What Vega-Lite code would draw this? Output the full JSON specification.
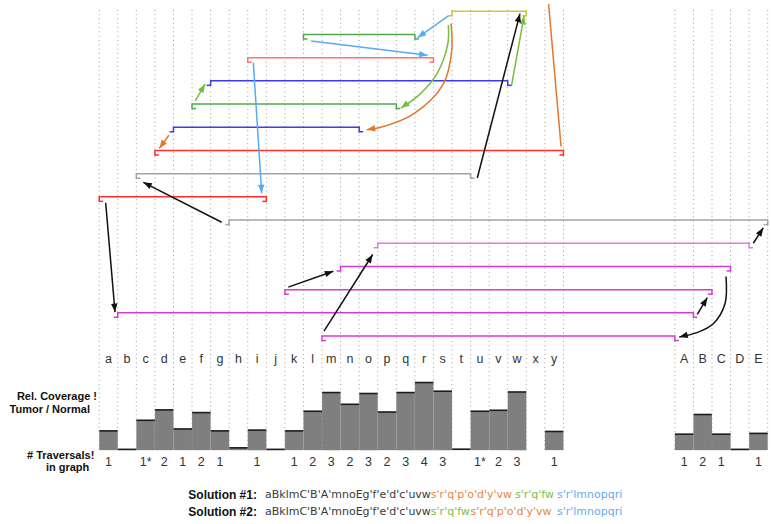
{
  "$schema": "https://vega.github.io/schema/vega-lite/v6.json",
  "width": 771,
  "height": 524,
  "autosize": {"type": "fit", "contains": "padding"},
  "padding": 0,
  "background": "white",
  "config": {"view": {"stroke": null}, "font": "Liberation Sans"},
  "datasets": {
    "columns": [
      {"seg": "a", "idx": 0, "cov": 1.0, "trav": "1"},
      {"seg": "b", "idx": 1, "cov": 0.04, "trav": ""},
      {"seg": "c", "idx": 2, "cov": 1.55, "trav": "1*"},
      {"seg": "d", "idx": 3, "cov": 2.09, "trav": "2"},
      {"seg": "e", "idx": 4, "cov": 1.1, "trav": "1"},
      {"seg": "f", "idx": 5, "cov": 1.95, "trav": "2"},
      {"seg": "g", "idx": 6, "cov": 1.0, "trav": "1"},
      {"seg": "h", "idx": 7, "cov": 0.12, "trav": ""},
      {"seg": "i", "idx": 8, "cov": 1.04, "trav": "1"},
      {"seg": "j", "idx": 9, "cov": 0.04, "trav": ""},
      {"seg": "k", "idx": 10, "cov": 1.0, "trav": "1"},
      {"seg": "l", "idx": 11, "cov": 2.02, "trav": "2"},
      {"seg": "m", "idx": 12, "cov": 2.99, "trav": "3"},
      {"seg": "n", "idx": 13, "cov": 2.38, "trav": "2"},
      {"seg": "o", "idx": 14, "cov": 2.94, "trav": "3"},
      {"seg": "p", "idx": 15, "cov": 1.98, "trav": "2"},
      {"seg": "q", "idx": 16, "cov": 2.99, "trav": "3"},
      {"seg": "r", "idx": 17, "cov": 3.51, "trav": "4"},
      {"seg": "s", "idx": 18, "cov": 3.06, "trav": "3"},
      {"seg": "t", "idx": 19, "cov": 0.05, "trav": ""},
      {"seg": "u", "idx": 20, "cov": 2.02, "trav": "1*"},
      {"seg": "v", "idx": 21, "cov": 2.07, "trav": "2"},
      {"seg": "w", "idx": 22, "cov": 3.02, "trav": "3"},
      {"seg": "x", "idx": 23, "cov": null, "trav": ""},
      {"seg": "y", "idx": 24, "cov": 0.97, "trav": "1"},
      {"seg": "A", "idx": 31, "cov": 0.83, "trav": "1"},
      {"seg": "B", "idx": 32, "cov": 1.85, "trav": "2"},
      {"seg": "C", "idx": 33, "cov": 0.83, "trav": "1"},
      {"seg": "D", "idx": 34, "cov": 0.04, "trav": ""},
      {"seg": "E", "idx": 35, "cov": 0.87, "trav": "1"}
    ],
    "tracks": [
      {"track": 0, "from": 19, "to": 23, "hue": "yellow", "lf": "out", "rf": "in"},
      {"track": 1, "from": 11, "to": 17, "hue": "green", "lf": "in", "rf": "out"},
      {"track": 2, "from": 8, "to": 18, "hue": "pink", "lf": "in", "rf": "in"},
      {"track": 3, "from": 6, "to": 22, "hue": "blue", "lf": "out", "rf": "out"},
      {"track": 4, "from": 5, "to": 16, "hue": "green", "lf": "in", "rf": "out"},
      {"track": 5, "from": 4, "to": 14, "hue": "blue", "lf": "out", "rf": "out"},
      {"track": 6, "from": 3, "to": 25, "hue": "red", "lf": "in", "rf": "in"},
      {"track": 7, "from": 2, "to": 20, "hue": "grey", "lf": "in", "rf": "out"},
      {"track": 8, "from": 0, "to": 9, "hue": "red", "lf": "in", "rf": "in"},
      {"track": 9, "from": 7, "to": 36, "hue": "grey", "lf": "out", "rf": "in"},
      {"track": 10, "from": 15, "to": 35, "hue": "orchid", "lf": "out", "rf": "out"},
      {"track": 11, "from": 13, "to": 34, "hue": "magenta", "lf": "out", "rf": "in"},
      {"track": 12, "from": 10, "to": 33, "hue": "magenta", "lf": "in", "rf": "in"},
      {"track": 13, "from": 1, "to": 32, "hue": "magenta", "lf": "out", "rf": "out"},
      {"track": 14, "from": 12, "to": 31, "hue": "magenta", "lf": "in", "rf": "out"}
    ],
    "arrows": [
      {"arrow": "s1", "seq": 0, "u": 18.8, "t": 0.202, "hue": "sky", "head": true},
      {"arrow": "s1", "seq": 1, "u": 17.15, "t": 1.136, "hue": "sky", "head": true},
      {"arrow": "s2", "seq": 0, "u": 11.41, "t": 1.278, "hue": "sky", "head": true},
      {"arrow": "s2", "seq": 1, "u": 17.69, "t": 1.893, "hue": "sky", "head": true},
      {"arrow": "s3", "seq": 0, "u": 8.3, "t": 2.212, "hue": "sky", "head": true},
      {"arrow": "s3", "seq": 1, "u": 8.75, "t": 7.848, "hue": "sky", "head": true},
      {"arrow": "g4", "seq": 0, "u": 5.175, "t": 3.86, "hue": "lime", "head": true},
      {"arrow": "g4", "seq": 1, "u": 5.7, "t": 3.14, "hue": "lime", "head": true},
      {"arrow": "o5", "seq": 0, "u": 3.76, "t": 5.336, "hue": "orange", "head": true},
      {"arrow": "o5", "seq": 1, "u": 3.236, "t": 5.912, "hue": "orange", "head": true},
      {"arrow": "o6", "seq": 0, "u": 18.945, "t": 0.534, "hue": "orange", "head": true},
      {"arrow": "o6", "seq": 1, "u": 18.983, "t": 1.708, "hue": "orange", "head": true},
      {"arrow": "o6", "seq": 2, "u": 18.53, "t": 3.141, "hue": "orange", "head": true},
      {"arrow": "o6", "seq": 3, "u": 16.914, "t": 4.432, "hue": "orange", "head": true},
      {"arrow": "o6", "seq": 4, "u": 15.121, "t": 5.009, "hue": "orange", "head": true},
      {"arrow": "o6", "seq": 5, "u": 14.405, "t": 5.108, "hue": "orange", "head": true},
      {"arrow": "g7", "seq": 0, "u": 18.8, "t": 0.589, "hue": "lime", "head": true},
      {"arrow": "g7", "seq": 1, "u": 18.77, "t": 1.42, "hue": "lime", "head": true},
      {"arrow": "g7", "seq": 2, "u": 18.174, "t": 2.711, "hue": "lime", "head": true},
      {"arrow": "g7", "seq": 3, "u": 17.275, "t": 3.571, "hue": "lime", "head": true},
      {"arrow": "g7", "seq": 4, "u": 16.252, "t": 4.174, "hue": "lime", "head": true},
      {"arrow": "g8", "seq": 0, "u": 22.21, "t": 3.184, "hue": "lime", "head": true},
      {"arrow": "g8", "seq": 1, "u": 22.88, "t": 0.202, "hue": "lime", "head": true},
      {"arrow": "k9", "seq": 0, "u": 20.36, "t": 7.186, "hue": "black", "head": true},
      {"arrow": "k9", "seq": 1, "u": 22.66, "t": 0.103, "hue": "black", "head": true},
      {"arrow": "o10", "seq": 0, "u": 24.2, "t": -0.314, "hue": "orange", "head": false},
      {"arrow": "o10", "seq": 1, "u": 24.87, "t": 5.826, "hue": "orange", "head": false},
      {"arrow": "k11", "seq": 0, "u": 6.597, "t": 9.096, "hue": "black", "head": true},
      {"arrow": "k11", "seq": 1, "u": 2.375, "t": 7.375, "hue": "black", "head": true},
      {"arrow": "k12", "seq": 0, "u": 0.35, "t": 8.262, "hue": "black", "head": true},
      {"arrow": "k12", "seq": 1, "u": 0.851, "t": 12.969, "hue": "black", "head": true},
      {"arrow": "k13", "seq": 0, "u": 10.183, "t": 11.893, "hue": "black", "head": true},
      {"arrow": "k13", "seq": 1, "u": 12.607, "t": 11.205, "hue": "black", "head": true},
      {"arrow": "k14", "seq": 0, "u": 12.106, "t": 13.787, "hue": "black", "head": true},
      {"arrow": "k14", "seq": 1, "u": 14.728, "t": 10.486, "hue": "black", "head": true},
      {"arrow": "k15", "seq": 0, "u": 35.224, "t": 10.0, "hue": "black", "head": true},
      {"arrow": "k15", "seq": 1, "u": 35.762, "t": 9.337, "hue": "black", "head": true},
      {"arrow": "k16", "seq": 0, "u": 33.754, "t": 11.433, "hue": "black", "head": true},
      {"arrow": "k16", "seq": 1, "u": 33.7, "t": 12.608, "hue": "black", "head": true},
      {"arrow": "k16", "seq": 2, "u": 33.07, "t": 13.468, "hue": "black", "head": true},
      {"arrow": "k16", "seq": 3, "u": 32.175, "t": 13.855, "hue": "black", "head": true},
      {"arrow": "k16", "seq": 4, "u": 31.238, "t": 14.045, "hue": "black", "head": true},
      {"arrow": "k17", "seq": 0, "u": 32.208, "t": 13.068, "hue": "black", "head": true},
      {"arrow": "k17", "seq": 1, "u": 32.747, "t": 12.349, "hue": "black", "head": true}
    ]
  },
  "layer": [
    {
      "data": {"name": "columns"},
      "transform": [
        {"filter": "isValid(datum.cov)"},
        {"calculate": "datum.idx + 1", "as": "end"}
      ],
      "encoding": {
        "x": {"field": "idx", "type": "quantitative", "scale": {"domain": [-5.342, 36.177], "nice": false, "zero": false}, "axis": null},
        "x2": {"field": "end"}
      },
      "layer": [
        {
          "mark": {"type": "rect", "fill": "#7f7f7f"},
          "encoding": {
            "y": {"field": "cov", "type": "quantitative", "scale": {"domain": [-3.834, 23.316], "nice": false, "zero": false}, "axis": null},
            "y2": {"datum": 0}
          }
        },
        {
          "mark": {"type": "rule", "stroke": "#1c1c1c", "strokeWidth": 1.6},
          "encoding": {"y": {"field": "cov", "type": "quantitative"}}
        }
      ]
    },
    {
      "layer": [
        {
          "data": {"name": "columns"},
          "mark": {"type": "rule", "stroke": "#9c9c9c", "strokeWidth": 1, "strokeDash": [1, 3.3]},
          "encoding": {
            "x": {"field": "idx", "type": "quantitative"},
            "y": {"datum": -0.06, "type": "quantitative", "scale": {"domain": [-0.443, 22.104], "reverse": true, "nice": false, "zero": false}, "axis": null},
            "y2": {"datum": 18.92}
          }
        },
        {
          "data": {"name": "columns"},
          "transform": [
            {"filter": "datum.seg == 'y' || datum.seg == 'E'"},
            {"calculate": "datum.idx + 1", "as": "end"}
          ],
          "mark": {"type": "rule", "stroke": "#9c9c9c", "strokeWidth": 1, "strokeDash": [1, 3.3]},
          "encoding": {
            "x": {"field": "end", "type": "quantitative"},
            "y": {"datum": -0.06, "type": "quantitative"},
            "y2": {"datum": 18.92}
          }
        },
        {
          "data": {"name": "tracks"},
          "layer": [
            {
              "mark": {"type": "rule", "strokeWidth": 1.5},
              "encoding": {
                "x": {"field": "from", "type": "quantitative"},
                "x2": {"field": "to"},
                "y": {"field": "track", "type": "quantitative"},
                "color": {
                  "field": "hue", "type": "nominal", "legend": null,
                  "scale": {
                    "domain": ["yellow", "green", "pink", "blue", "red", "grey", "orchid", "magenta", "sky", "lime", "orange", "black"],
                    "range": ["#d3c634", "#4fa84a", "#ff7272", "#3b3bf2", "#ff2d2d", "#a3a3a3", "#e27ae2", "#d63ad6", "#55acf5", "#76be3e", "#e2782a", "#111111"]
                  }
                }
              }
            },
            {
              "mark": {"type": "rule", "strokeWidth": 1.5, "strokeCap": "square", "y2Offset": 4.5},
              "encoding": {
                "x": {"field": "from", "type": "quantitative"},
                "y": {"field": "track", "type": "quantitative"},
                "y2": {"field": "track"},
                "color": {"field": "hue", "type": "nominal"}
              }
            },
            {
              "mark": {"type": "rule", "strokeWidth": 1.5, "strokeCap": "square", "y2Offset": 4.5},
              "encoding": {
                "x": {"field": "to", "type": "quantitative"},
                "y": {"field": "track", "type": "quantitative"},
                "y2": {"field": "track"},
                "color": {"field": "hue", "type": "nominal"}
              }
            },
            {
              "transform": [{"filter": "datum.lf == 'in'"}],
              "mark": {"type": "rule", "strokeWidth": 1.5, "x2Offset": 4, "yOffset": 4.5, "y2Offset": 4.5},
              "encoding": {
                "x": {"field": "from", "type": "quantitative"},
                "x2": {"field": "from"},
                "y": {"field": "track", "type": "quantitative"},
                "y2": {"field": "track"},
                "color": {"field": "hue", "type": "nominal"}
              }
            },
            {
              "transform": [{"filter": "datum.lf == 'out'"}],
              "mark": {"type": "rule", "strokeWidth": 1.5, "x2Offset": -4, "yOffset": 4.5, "y2Offset": 4.5},
              "encoding": {
                "x": {"field": "from", "type": "quantitative"},
                "x2": {"field": "from"},
                "y": {"field": "track", "type": "quantitative"},
                "y2": {"field": "track"},
                "color": {"field": "hue", "type": "nominal"}
              }
            },
            {
              "transform": [{"filter": "datum.rf == 'in'"}],
              "mark": {"type": "rule", "strokeWidth": 1.5, "x2Offset": -4, "yOffset": 4.5, "y2Offset": 4.5},
              "encoding": {
                "x": {"field": "to", "type": "quantitative"},
                "x2": {"field": "to"},
                "y": {"field": "track", "type": "quantitative"},
                "y2": {"field": "track"},
                "color": {"field": "hue", "type": "nominal"}
              }
            },
            {
              "transform": [{"filter": "datum.rf == 'out'"}],
              "mark": {"type": "rule", "strokeWidth": 1.5, "x2Offset": 4, "yOffset": 4.5, "y2Offset": 4.5},
              "encoding": {
                "x": {"field": "to", "type": "quantitative"},
                "x2": {"field": "to"},
                "y": {"field": "track", "type": "quantitative"},
                "y2": {"field": "track"},
                "color": {"field": "hue", "type": "nominal"}
              }
            }
          ]
        },
        {
          "data": {"name": "arrows"},
          "mark": {"type": "line", "interpolate": "catmull-rom", "strokeWidth": 1.5},
          "encoding": {
            "x": {"field": "u", "type": "quantitative"},
            "y": {"field": "t", "type": "quantitative"},
            "detail": {"field": "arrow"},
            "order": {"field": "seq"},
            "color": {"field": "hue", "type": "nominal"}
          }
        },
        {
          "data": {"name": "arrows"},
          "transform": [
            {"window": [{"op": "lag", "field": "u", "as": "pu"}, {"op": "lag", "field": "t", "as": "pt"}], "groupby": ["arrow"], "sort": [{"field": "seq", "order": "ascending"}]},
            {"joinaggregate": [{"op": "max", "field": "seq", "as": "last"}], "groupby": ["arrow"]},
            {"filter": "datum.seq == datum.last && datum.head"},
            {"calculate": "atan2((datum.u - datum.pu) * 18.57, (datum.pt - datum.t) * 23.24) * 180 / PI", "as": "ang"}
          ],
          "mark": {"type": "point", "filled": true, "opacity": 1, "shape": "M0,0L-0.38,1L0.38,1Z", "size": 290, "strokeWidth": 0},
          "encoding": {
            "x": {"field": "u", "type": "quantitative"},
            "y": {"field": "t", "type": "quantitative"},
            "angle": {"field": "ang", "type": "quantitative", "scale": null},
            "color": {"field": "hue", "type": "nominal"}
          }
        },
        {
          "data": {"name": "columns"},
          "transform": [{"calculate": "datum.idx + 0.5", "as": "mid"}],
          "mark": {"type": "text", "fontSize": 12.5, "fill": "#333333", "baseline": "middle", "align": "center"},
          "encoding": {
            "x": {"field": "mid", "type": "quantitative"},
            "y": {"datum": 15.0, "type": "quantitative"},
            "text": {"field": "seg"}
          }
        },
        {
          "data": {"name": "columns"},
          "transform": [{"calculate": "datum.idx + 0.5", "as": "mid"}],
          "mark": {"type": "text", "fontSize": 12.5, "fill": "#333333", "baseline": "middle", "align": "center"},
          "encoding": {
            "x": {"field": "mid", "type": "quantitative"},
            "y": {"datum": 19.42, "type": "quantitative"},
            "text": {"field": "trav"}
          }
        },
        {
          "data": {"values": [{"label": "Rel. Coverage !"}]},
          "mark": {"type": "text", "fontSize": 11, "fontWeight": "bold", "fill": "#111111", "align": "right", "baseline": "middle"},
          "encoding": {"x": {"datum": -0.118, "type": "quantitative"}, "y": {"datum": 16.626, "type": "quantitative"}, "text": {"field": "label"}}
        },
        {
          "data": {"values": [{"label": "Tumor / Normal"}]},
          "mark": {"type": "text", "fontSize": 11, "fontWeight": "bold", "fill": "#111111", "align": "right", "baseline": "middle"},
          "encoding": {"x": {"datum": -0.495, "type": "quantitative"}, "y": {"datum": 17.199, "type": "quantitative"}, "text": {"field": "label"}}
        },
        {
          "data": {"values": [{"label": "# Traversals!"}]},
          "mark": {"type": "text", "fontSize": 11, "fontWeight": "bold", "fill": "#111111", "align": "right", "baseline": "middle"},
          "encoding": {"x": {"datum": -0.264, "type": "quantitative"}, "y": {"datum": 19.178, "type": "quantitative"}, "text": {"field": "label"}}
        },
        {
          "data": {"values": [{"label": "in graph"}]},
          "mark": {"type": "text", "fontSize": 11, "fontWeight": "bold", "fill": "#111111", "align": "right", "baseline": "middle"},
          "encoding": {"x": {"datum": -0.533, "type": "quantitative"}, "y": {"datum": 19.707, "type": "quantitative"}, "text": {"field": "label"}}
        },
        {
          "data": {"values": [{"label": "Solution #1:"}]},
          "mark": {"type": "text", "fontSize": 12, "fontWeight": "bold", "fill": "#111111", "align": "left", "baseline": "middle"},
          "encoding": {"x": {"datum": 4.798, "type": "quantitative"}, "y": {"datum": 20.856, "type": "quantitative"}, "text": {"field": "label"}}
        },
        {
          "data": {"values": [{"label": "Solution #2:"}]},
          "mark": {"type": "text", "fontSize": 12, "fontWeight": "bold", "fill": "#111111", "align": "left", "baseline": "middle"},
          "encoding": {"x": {"datum": 4.798, "type": "quantitative"}, "y": {"datum": 21.588, "type": "quantitative"}, "text": {"field": "label"}}
        },
        {
          "data": {"values": [{"part": "aBklmC'B'A'mnoEg'f'e'd'c'uvw"}]},
          "mark": {"type": "text", "font": "DejaVu Sans", "fontSize": 11, "fill": "#3a3a3a", "align": "left", "baseline": "middle"},
          "encoding": {"x": {"datum": 8.928, "type": "quantitative"}, "y": {"datum": 20.856, "type": "quantitative"}, "text": {"field": "part"}}
        },
        {
          "data": {"values": [{"part": "s'r'q'p'o'd'y'vw"}]},
          "mark": {"type": "text", "font": "DejaVu Sans", "fontSize": 11, "fill": "#e8843e", "align": "left", "baseline": "middle"},
          "encoding": {"x": {"datum": 17.86, "type": "quantitative"}, "y": {"datum": 20.856, "type": "quantitative"}, "text": {"field": "part"}}
        },
        {
          "data": {"values": [{"part": "s'r'q'fw"}]},
          "mark": {"type": "text", "font": "DejaVu Sans", "fontSize": 11, "fill": "#78bf45", "align": "left", "baseline": "middle"},
          "encoding": {"x": {"datum": 22.391, "type": "quantitative"}, "y": {"datum": 20.856, "type": "quantitative"}, "text": {"field": "part"}}
        },
        {
          "data": {"values": [{"part": "s'r'lmnopqri"}]},
          "mark": {"type": "text", "font": "DejaVu Sans", "fontSize": 11, "fill": "#66aaf0", "align": "left", "baseline": "middle"},
          "encoding": {"x": {"datum": 24.65, "type": "quantitative"}, "y": {"datum": 20.856, "type": "quantitative"}, "text": {"field": "part"}}
        },
        {
          "data": {"values": [{"part": "aBklmC'B'A'mnoEg'f'e'd'c'uvw"}]},
          "mark": {"type": "text", "font": "DejaVu Sans", "fontSize": 11, "fill": "#3a3a3a", "align": "left", "baseline": "middle"},
          "encoding": {"x": {"datum": 8.928, "type": "quantitative"}, "y": {"datum": 21.588, "type": "quantitative"}, "text": {"field": "part"}}
        },
        {
          "data": {"values": [{"part": "s'r'q'fw"}]},
          "mark": {"type": "text", "font": "DejaVu Sans", "fontSize": 11, "fill": "#78bf45", "align": "left", "baseline": "middle"},
          "encoding": {"x": {"datum": 17.86, "type": "quantitative"}, "y": {"datum": 21.588, "type": "quantitative"}, "text": {"field": "part"}}
        },
        {
          "data": {"values": [{"part": "s'r'q'p'o'd'y'vw"}]},
          "mark": {"type": "text", "font": "DejaVu Sans", "fontSize": 11, "fill": "#e8843e", "align": "left", "baseline": "middle"},
          "encoding": {"x": {"datum": 19.99, "type": "quantitative"}, "y": {"datum": 21.588, "type": "quantitative"}, "text": {"field": "part"}}
        },
        {
          "data": {"values": [{"part": "s'r'lmnopqri"}]},
          "mark": {"type": "text", "font": "DejaVu Sans", "fontSize": 11, "fill": "#66aaf0", "align": "left", "baseline": "middle"},
          "encoding": {"x": {"datum": 24.65, "type": "quantitative"}, "y": {"datum": 21.588, "type": "quantitative"}, "text": {"field": "part"}}
        }
      ]
    }
  ],
  "resolve": {"scale": {"y": "independent"}}
}
